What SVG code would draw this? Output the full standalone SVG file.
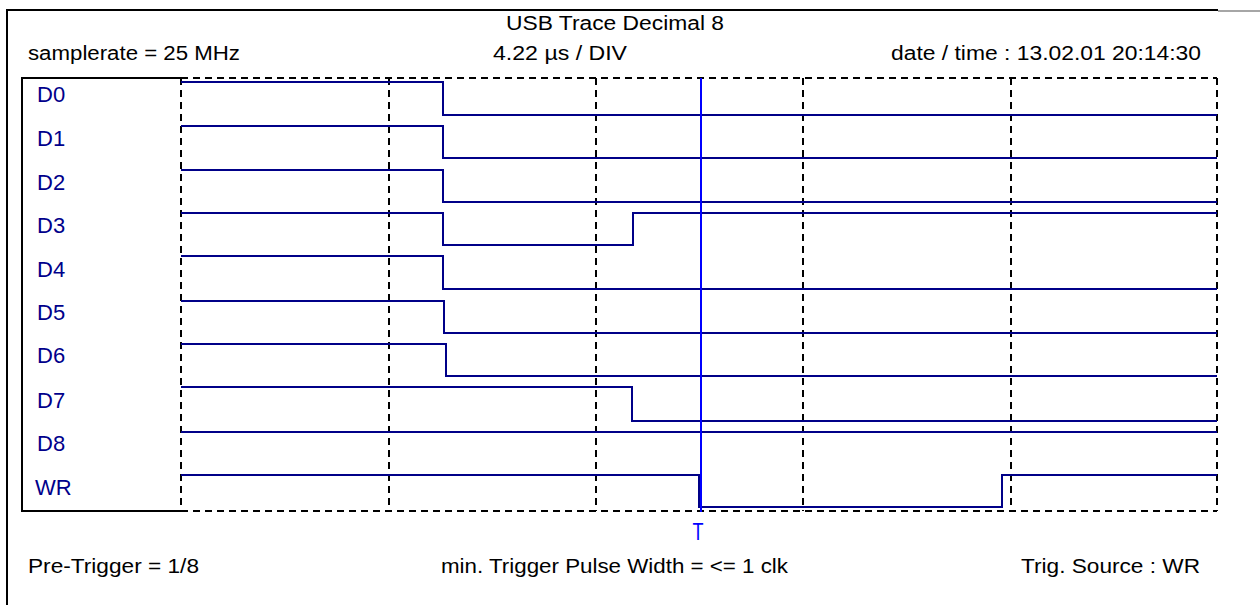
<svg xmlns="http://www.w3.org/2000/svg" width="1260" height="605" viewBox="0 0 1260 605">
<style>
.t{font-family:"Liberation Sans",Arial,sans-serif;font-size:20px;fill:#000}
.lbl{font-family:"Liberation Sans",Arial,sans-serif;font-size:22px;fill:#00008B}
.sig{fill:none;stroke:#000088;stroke-width:2}
.grid{fill:none;stroke:#000;stroke-width:2;stroke-dasharray:7 5}
.frame{fill:none;stroke:#000;stroke-width:2}
</style>
<rect width="1260" height="605" fill="#fff"/>
<g id="frame">
<path class="frame" d="M7,605 V10 H1218"/>
<line x1="1218" y1="11" x2="1260" y2="11" stroke="#888" stroke-width="1.5"/>
<path class="frame" d="M181,78 H22 V511 H181"/>
</g>
<g id="header">
<text class="t" x="506" y="30" textLength="218" lengthAdjust="spacingAndGlyphs">USB Trace Decimal 8</text>
<text class="t" x="28" y="60" textLength="212" lengthAdjust="spacingAndGlyphs">samplerate = 25 MHz</text>
<text class="t" x="493" y="60" textLength="134" lengthAdjust="spacingAndGlyphs">4.22 µs / DIV</text>
<text class="t" x="891" y="60" textLength="310" lengthAdjust="spacingAndGlyphs">date / time : 13.02.01 20:14:30</text>
</g>
<g id="grid">
<line class="grid" x1="181" y1="78" x2="1217" y2="78"/>
<line class="grid" x1="181" y1="511" x2="1217" y2="511"/>
<line class="grid" x1="181" y1="78" x2="181" y2="511"/>
<line class="grid" x1="389" y1="78" x2="389" y2="511"/>
<line class="grid" x1="596" y1="78" x2="596" y2="511"/>
<line class="grid" x1="803" y1="78" x2="803" y2="511"/>
<line class="grid" x1="1011" y1="78" x2="1011" y2="511"/>
<line class="grid" x1="1217" y1="78" x2="1217" y2="511"/>
</g>
<g id="sig-D0"><text class="lbl" x="37" y="102">D0</text><polyline class="sig" points="181,82 443,82 443,115 1217,115"/></g>
<g id="sig-D1"><text class="lbl" x="37" y="146">D1</text><polyline class="sig" points="181,126 443,126 443,158 1217,158"/></g>
<g id="sig-D2"><text class="lbl" x="37" y="190">D2</text><polyline class="sig" points="181,170 443,170 443,202 1217,202"/></g>
<g id="sig-D3"><text class="lbl" x="37" y="233">D3</text><polyline class="sig" points="181,213 443,213 443,245 633,245 633,213 1217,213"/></g>
<g id="sig-D4"><text class="lbl" x="37" y="277">D4</text><polyline class="sig" points="181,256 443,256 443,289 1217,289"/></g>
<g id="sig-D5"><text class="lbl" x="37" y="320">D5</text><polyline class="sig" points="181,301 444,301 444,333 1217,333"/></g>
<g id="sig-D6"><text class="lbl" x="37" y="363">D6</text><polyline class="sig" points="181,344 446,344 446,376 1217,376"/></g>
<g id="sig-D7"><text class="lbl" x="37" y="408">D7</text><polyline class="sig" points="181,387 632,387 632,421 1217,421"/></g>
<g id="sig-D8"><text class="lbl" x="37" y="451">D8</text><polyline class="sig" points="181,432 1217,432"/></g>
<g id="sig-WR"><text class="lbl" x="35" y="495">WR</text><polyline class="sig" points="181,475 699,475 699,507 1002,507 1002,475 1217,475"/></g>
<g id="trigger">
<line x1="701" y1="78" x2="701" y2="512" stroke="#0000FF" stroke-width="2"/>
<text x="698" y="540" text-anchor="middle" font-family="Liberation Sans, Arial, sans-serif" font-size="24" fill="#0000FF" textLength="11" lengthAdjust="spacingAndGlyphs">T</text>
</g>
<g id="footer">
<text class="t" x="28" y="573" textLength="171" lengthAdjust="spacingAndGlyphs">Pre-Trigger = 1/8</text>
<text class="t" x="441" y="573" textLength="347" lengthAdjust="spacingAndGlyphs">min. Trigger Pulse Width = &lt;= 1 clk</text>
<text class="t" x="1021" y="573" textLength="179" lengthAdjust="spacingAndGlyphs">Trig. Source : WR</text>
</g>
</svg>
